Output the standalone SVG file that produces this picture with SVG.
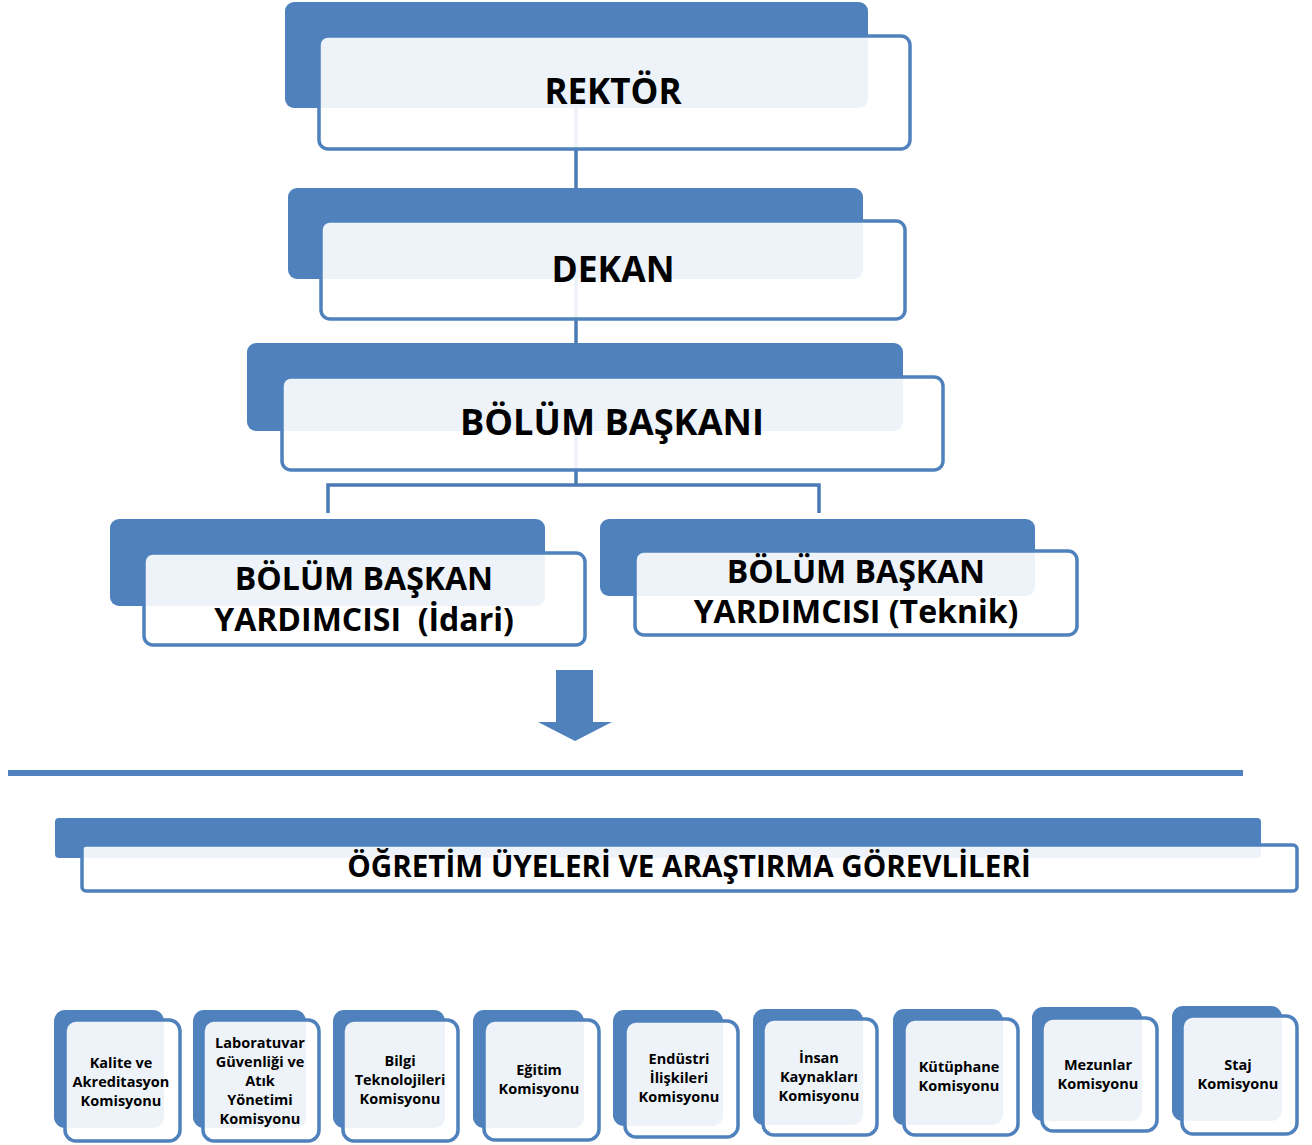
<svg xmlns="http://www.w3.org/2000/svg" width="1312" height="1145" viewBox="0 0 1312 1145">
<style>
.back{fill:#4F81BD}
.front{fill:#FFFFFF;fill-opacity:0.9;stroke:#4F81BD;stroke-width:3.5}
.conn{fill:none;stroke:#4A79B3;stroke-width:3.5}
.big{font-family:"Open Sans","Liberation Sans",sans-serif;font-weight:bold;fill:#000;text-anchor:middle}
.small{font-family:"Open Sans","Liberation Sans",sans-serif;font-weight:bold;fill:#000;text-anchor:middle;font-size:14.5px}
</style>
<rect width="1312" height="1145" fill="#FFFFFF"/>
<g id="connectors">
<line class="conn" x1="576" y1="108" x2="576" y2="188"/>
<line class="conn" x1="576" y1="279" x2="576" y2="343"/>
<polyline class="conn" points="576,431 576,485"/>
<polyline class="conn" points="328,513 328,485 819,485 819,513"/>
</g>
<g id="rektor">
<rect class="back" x="285" y="2" width="583" height="106" rx="9"/>
<rect class="front" x="319" y="36" width="591" height="113" rx="9"/>
<text class="big" x="613" y="104" font-size="35">REKTÖR</text>
</g>
<g id="dekan">
<rect class="back" x="288" y="188" width="575" height="91" rx="9"/>
<rect class="front" x="321" y="221" width="584" height="98" rx="9"/>
<text class="big" x="613" y="282" font-size="35.5">DEKAN</text>
</g>
<g id="bolum-baskani">
<rect class="back" x="247" y="343" width="656" height="88" rx="9"/>
<rect class="front" x="282" y="377" width="661" height="93" rx="9"/>
<text class="big" x="612" y="435" font-size="36.2">BÖLÜM BAŞKANI</text>
</g>
<g id="bby-idari">
<rect class="back" x="110" y="519" width="435" height="87" rx="9"/>
<rect class="front" x="144" y="553" width="441" height="92" rx="9"/>
<text class="big" x="364" y="590" font-size="32">BÖLÜM BAŞKAN</text>
<text class="big" x="364" y="631" font-size="32" xml:space="preserve">YARDIMCISI  (İdari)</text>
</g>
<g id="bby-teknik">
<rect class="back" x="600" y="519" width="435" height="77" rx="9"/>
<rect class="front" x="635" y="551" width="442" height="84" rx="9"/>
<text class="big" x="856" y="583" font-size="32">BÖLÜM BAŞKAN</text>
<text class="big" x="856" y="623" font-size="32">YARDIMCISI (Teknik)</text>
</g>
<g id="arrow-separator">
<polygon fill="#4F81BD" points="556,670 593,670 593,722 612,722 575,741 538,722 556,722"/>
<rect x="8" y="770" width="1235" height="6" fill="#4F81BD"/>
</g>
<g id="ogretim">
<rect class="back" x="55" y="818" width="1206" height="40" rx="4"/>
<rect class="front" x="82" y="845" width="1215" height="46" rx="4"/>
<text class="big" x="689" y="877" font-size="29.6">ÖĞRETİM ÜYELERİ VE ARAŞTIRMA GÖREVLİLERİ</text>
</g>
<g id="kalite">
<rect class="back" x="54" y="1010" width="110" height="118" rx="11"/>
<rect class="front" x="65" y="1020" width="115" height="121" rx="11"/>
<text class="small" x="121" y="1068">Kalite ve</text>
<text class="small" x="121" y="1087">Akreditasyon</text>
<text class="small" x="121" y="1106">Komisyonu</text>
</g>
<g id="laboratuvar">
<rect class="back" x="193" y="1010" width="113" height="118" rx="11"/>
<rect class="front" x="203" y="1020" width="116" height="121" rx="11"/>
<text class="small" x="260" y="1048">Laboratuvar</text>
<text class="small" x="260" y="1067">Güvenliği ve</text>
<text class="small" x="260" y="1086">Atık</text>
<text class="small" x="260" y="1105">Yönetimi</text>
<text class="small" x="260" y="1124">Komisyonu</text>
</g>
<g id="bilgi">
<rect class="back" x="333" y="1010" width="112" height="118" rx="11"/>
<rect class="front" x="343" y="1020" width="115" height="121" rx="11"/>
<text class="small" x="400" y="1066">Bilgi</text>
<text class="small" x="400" y="1085">Teknolojileri</text>
<text class="small" x="400" y="1104">Komisyonu</text>
</g>
<g id="egitim">
<rect class="back" x="473" y="1010" width="111" height="118" rx="11"/>
<rect class="front" x="484" y="1020" width="115" height="120" rx="11"/>
<text class="small" x="539" y="1075">Eğitim</text>
<text class="small" x="539" y="1094">Komisyonu</text>
</g>
<g id="endustri">
<rect class="back" x="613" y="1010" width="110" height="116" rx="11"/>
<rect class="front" x="625" y="1021" width="113" height="116" rx="11"/>
<text class="small" x="679" y="1064">Endüstri</text>
<text class="small" x="679" y="1083">İlişkileri</text>
<text class="small" x="679" y="1102">Komisyonu</text>
</g>
<g id="insan">
<rect class="back" x="753" y="1009" width="110" height="116" rx="11"/>
<rect class="front" x="763" y="1019" width="114" height="116" rx="11"/>
<text class="small" x="819" y="1063">İnsan</text>
<text class="small" x="819" y="1082">Kaynakları</text>
<text class="small" x="819" y="1101">Komisyonu</text>
</g>
<g id="kutuphane">
<rect class="back" x="893" y="1009" width="110" height="116" rx="11"/>
<rect class="front" x="904" y="1019" width="114" height="116" rx="11"/>
<text class="small" x="959" y="1072">Kütüphane</text>
<text class="small" x="959" y="1091">Komisyonu</text>
</g>
<g id="mezunlar">
<rect class="back" x="1032" y="1007" width="110" height="114" rx="11"/>
<rect class="front" x="1042" y="1018" width="115" height="113" rx="11"/>
<text class="small" x="1098" y="1070">Mezunlar</text>
<text class="small" x="1098" y="1089">Komisyonu</text>
</g>
<g id="staj">
<rect class="back" x="1172" y="1006" width="110" height="115" rx="11"/>
<rect class="front" x="1182" y="1016" width="115" height="118" rx="11"/>
<text class="small" x="1238" y="1070">Staj</text>
<text class="small" x="1238" y="1089">Komisyonu</text>
</g>
</svg>
